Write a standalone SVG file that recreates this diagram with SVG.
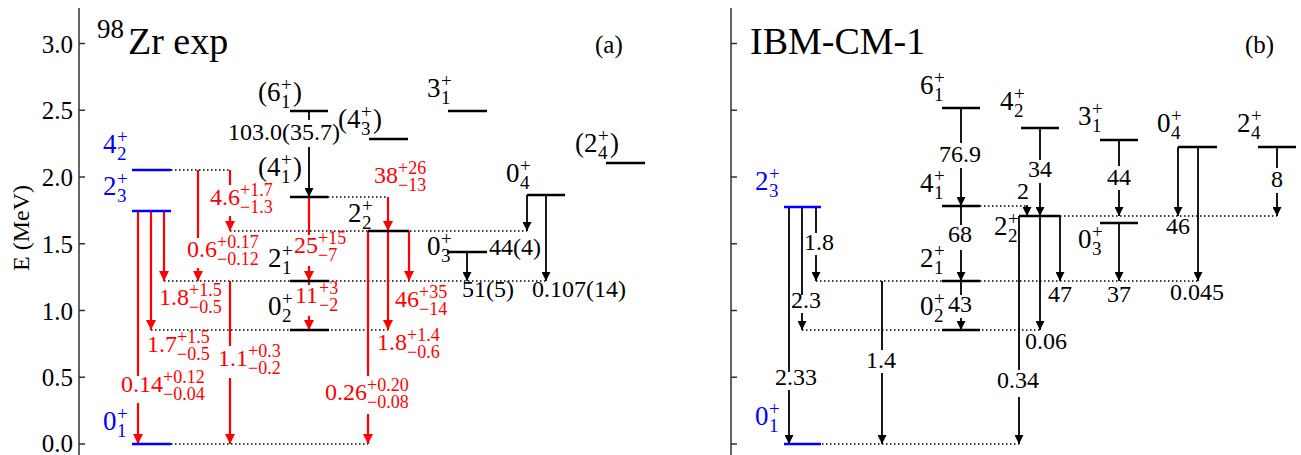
<svg xmlns="http://www.w3.org/2000/svg" width="1301" height="455" viewBox="0 0 1301 455" font-family="'Liberation Serif', 'Times New Roman', serif">
<style>
text{font-family:"Liberation Serif","Times New Roman",serif;}
.tk{font-size:25px;fill:#000;text-anchor:end}
.ax{stroke:#333;stroke-width:1.5;fill:none}
.lv{font-size:27px;fill:#000}
.lv .s{font-size:19px}
.val{font-size:24px;fill:#000}
.val .s{font-size:18px}
.vm{font-size:24px;fill:#000;text-anchor:middle}
.red{fill:#ff0000}
.blue{fill:#0000ff}
.lev{stroke:#000;stroke-width:2.5}
.levb{stroke:#0000ff;stroke-width:2.5}
.dot{stroke:#000;stroke-width:1.5;stroke-dasharray:1.5 2.5;fill:none}
.ar{stroke:#ff0000;stroke-width:2.2;fill:none;marker-end:url(#mr)}
.ab{stroke:#000;stroke-width:1.8;fill:none;marker-end:url(#mb)}
</style>
<defs>
<marker id="mr" markerUnits="userSpaceOnUse" viewBox="0 0 10 10" markerWidth="10" markerHeight="10" refX="10" refY="5" orient="auto"><path d="M0,0 L10,5 L0,10 Z" fill="#ff0000"/></marker>
<marker id="mb" markerUnits="userSpaceOnUse" viewBox="0 0 10 10" markerWidth="9" markerHeight="9" refX="10" refY="5" orient="auto"><path d="M0,0 L10,5 L0,10 Z" fill="#000"/></marker>
</defs>
<rect width="1301" height="455" fill="#fff"/>

<!-- Axes -->
<g id="axis-a">
<path class="ax" d="M79,8 V455 M79,43.5 H85 M79,110.25 H85 M79,177 H85 M79,243.75 H85 M79,310.5 H85 M79,377.25 H85 M79,444 H85"/>
<text class="tk" x="73" y="52.5">3.0</text>
<text class="tk" x="73" y="119">2.5</text>
<text class="tk" x="73" y="186">2.0</text>
<text class="tk" x="73" y="252.5">1.5</text>
<text class="tk" x="73" y="319.5">1.0</text>
<text class="tk" x="73" y="386">0.5</text>
<text class="tk" x="73" y="452">0.0</text>
<text transform="translate(29,228) rotate(-90)" style="font-size:24px;text-anchor:middle">E (MeV)</text>
<text x="97" y="38" style="font-size:27px">98</text>
<text x="128" y="54" style="font-size:38px">Zr exp</text>
<text x="595" y="53" style="font-size:25px">(a)</text>
</g>
<g id="axis-b">
<path class="ax" d="M731,8 V455 M731,43.5 H737 M731,110.25 H737 M731,177 H737 M731,243.75 H737 M731,310.5 H737 M731,377.25 H737 M731,444 H737"/>
<text x="750" y="54" style="font-size:38px">IBM-CM-1</text>
<text x="1245" y="53" style="font-size:25px">(b)</text>
</g>

<!-- Connectors -->
<g id="connectors">
<path class="dot" d="M171,444 H368 M151,330 H388 M164,281 H546 M230,231 H527 M328,197 H388 M171,170 H230"/>
<path class="dot" d="M822,444 H1019 M802,330 H1040 M816,281 H1198 M1060,216 H1277 M980,206 H1027"/>
<path class="ar" d="M138,211 V376 M138,403 V444"/>
<path class="ar" d="M151,211 V330"/>
<path class="ar" d="M164,211 V281"/>
<path class="ar" d="M198,170 V238 M198,268 V281"/>
<path class="ar" d="M230,170 V185 M230,216 V231"/>
<path class="ar" d="M230,281 V346 M230,378 V444"/>
<path class="ar" d="M309,197 V235 M309,266 V281"/>
<path class="ar" d="M309,281 V285 M309,316 V330"/>
<path class="ar" d="M388,197 V231"/>
<path class="ar" d="M368,231 V376 M368,414 V444"/>
<path class="ar" d="M388,231 V330"/>
<path class="ar" d="M409,231 V281"/>
<path class="ab" d="M309,111 V120 M309,147 V197"/>
<path class="ab" d="M467,252 V281"/>
<path class="ab" d="M527,195 V231"/>
<path class="ab" d="M546,195 V281"/>
<path class="ab" d="M789,207 V372 M789,390 V444"/>
<path class="ab" d="M802,207 V295 M802,313 V330"/>
<path class="ab" d="M816,207 V233 M816,255 V281"/>
<path class="ab" d="M882,281 V350 M882,373 V444"/>
<path class="ab" d="M961,108 V143 M961,168 V206"/>
<path class="ab" d="M961,206 V225 M961,250 V281"/>
<path class="ab" d="M961,281 V295 M961,318 V330"/>
<path class="ab" d="M1040,128 V160 M1040,183 V216"/>
<path class="ab" d="M1027,205 V216"/>
<path class="ab" d="M1119,140 V166 M1119,190 V216"/>
<path class="ab" d="M1277,147 V168 M1277,193 V216"/>
<path class="ab" d="M1178,147 V216"/>
<path class="ab" d="M1198,147 V281"/>
<path class="ab" d="M1060,216 V281"/>
<path class="ab" d="M1119,223 V281"/>
<path class="ab" d="M1040,216 V330"/>
<path class="ab" d="M1019,216 V370 M1019,397 V444"/>
<!-- red labels -->
<text class="val red"><tspan x="121" y="392">0.14</tspan><tspan class="s" x="163" y="383">+0.12</tspan><tspan class="s" x="163" y="400">−0.04</tspan></text>
<text class="val red"><tspan x="147" y="352">1.7</tspan><tspan class="s" x="177" y="343">+1.5</tspan><tspan class="s" x="177" y="360">−0.5</tspan></text>
<text class="val red"><tspan x="159" y="305">1.8</tspan><tspan class="s" x="189" y="296">+1.5</tspan><tspan class="s" x="189" y="313">−0.5</tspan></text>
<text class="val red"><tspan x="187" y="257">0.6</tspan><tspan class="s" x="217" y="248">+0.17</tspan><tspan class="s" x="217" y="265">−0.12</tspan></text>
<text class="val red"><tspan x="210" y="205">4.6</tspan><tspan class="s" x="240" y="196">+1.7</tspan><tspan class="s" x="240" y="213">−1.3</tspan></text>
<text class="val red"><tspan x="218" y="366">1.1</tspan><tspan class="s" x="248" y="357">+0.3</tspan><tspan class="s" x="248" y="374">−0.2</tspan></text>
<text class="val red"><tspan x="294" y="253">25</tspan><tspan class="s" x="318" y="244">+15</tspan><tspan class="s" x="318" y="261">−7</tspan></text>
<text class="val red"><tspan x="295" y="303">11</tspan><tspan class="s" x="319" y="294">+3</tspan><tspan class="s" x="319" y="311">−2</tspan></text>
<text class="val red"><tspan x="374" y="183">38</tspan><tspan class="s" x="398" y="174">+26</tspan><tspan class="s" x="398" y="191">−13</tspan></text>
<text class="val red"><tspan x="395" y="307">46</tspan><tspan class="s" x="419" y="298">+35</tspan><tspan class="s" x="419" y="315">−14</tspan></text>
<text class="val red"><tspan x="377" y="350">1.8</tspan><tspan class="s" x="407" y="341">+1.4</tspan><tspan class="s" x="407" y="358">−0.6</tspan></text>
<text class="val red"><tspan x="325" y="400">0.26</tspan><tspan class="s" x="367" y="391">+0.20</tspan><tspan class="s" x="367" y="408">−0.08</tspan></text>
<!-- black labels (a) -->
<text class="val" x="228" y="140">103.0(35.7)</text>
<text class="val" x="489" y="255">44(4)</text>
<text class="val" x="462" y="297">51(5)</text>
<text class="val" x="532" y="297">0.107(14)</text>
<!-- labels (b) -->
<text class="vm" x="960" y="162">76.9</text>
<text class="vm" x="960" y="242">68</text>
<text class="vm" x="960" y="312">43</text>
<text class="vm" x="1040" y="177">34</text>
<text class="vm" x="1023" y="199">2</text>
<text class="vm" x="1119" y="185">44</text>
<text class="vm" x="1277" y="187">8</text>
<text class="vm" x="1178" y="234">46</text>
<text class="vm" x="1197" y="300">0.045</text>
<text class="vm" x="1060" y="302">47</text>
<text class="vm" x="1119" y="302">37</text>
<text class="vm" x="1046" y="349">0.06</text>
<text class="vm" x="1018" y="388">0.34</text>
<text class="vm" x="796" y="385">2.33</text>
<text class="vm" x="806" y="308">2.3</text>
<text class="vm" x="819" y="250">1.8</text>
<text class="vm" x="881" y="368">1.4</text>
</g>

<!-- Levels panel (a) -->
<g id="a-0_1"><line class="levb" x1="132" y1="444" x2="171" y2="444"/><text class="lv blue"><tspan x="103" y="430">0</tspan><tspan class="s" x="117" y="420">+</tspan><tspan class="s" x="117" y="437">1</tspan></text></g>
<g id="a-2_3"><line class="levb" x1="132" y1="211" x2="171" y2="211"/><text class="lv blue"><tspan x="103" y="195">2</tspan><tspan class="s" x="117" y="185">+</tspan><tspan class="s" x="117" y="202">3</tspan></text></g>
<g id="a-4_2"><line class="levb" x1="132" y1="170" x2="171" y2="170"/><text class="lv blue"><tspan x="103" y="153">4</tspan><tspan class="s" x="117" y="143">+</tspan><tspan class="s" x="117" y="160">2</tspan></text></g>
<g id="a-6_1"><line class="lev" x1="290" y1="111" x2="328" y2="111"/><text class="lv"><tspan x="258" y="101">(6</tspan><tspan class="s" x="281" y="91">+</tspan><tspan class="s" x="281" y="108">1</tspan><tspan x="293" y="101">)</tspan></text></g>
<g id="a-4_3"><line class="lev" x1="369" y1="139" x2="408" y2="139"/><text class="lv"><tspan x="338" y="128">(4</tspan><tspan class="s" x="361" y="118">+</tspan><tspan class="s" x="361" y="135">3</tspan><tspan x="373" y="128">)</tspan></text></g>
<g id="a-4_1"><line class="lev" x1="290" y1="197" x2="328" y2="197"/><text class="lv"><tspan x="258" y="176">(4</tspan><tspan class="s" x="281" y="166">+</tspan><tspan class="s" x="281" y="183">1</tspan><tspan x="293" y="176">)</tspan></text></g>
<g id="a-3_1"><line class="lev" x1="448" y1="111" x2="487" y2="111"/><text class="lv"><tspan x="427" y="97">3</tspan><tspan class="s" x="441" y="87">+</tspan><tspan class="s" x="441" y="104">1</tspan></text></g>
<g id="a-2_4"><line class="lev" x1="606" y1="163" x2="645" y2="163"/><text class="lv"><tspan x="575" y="152">(2</tspan><tspan class="s" x="598" y="142">+</tspan><tspan class="s" x="598" y="159">4</tspan><tspan x="610" y="152">)</tspan></text></g>
<g id="a-0_4"><line class="lev" x1="527" y1="195" x2="565" y2="195"/><text class="lv"><tspan x="506" y="182">0</tspan><tspan class="s" x="520" y="172">+</tspan><tspan class="s" x="520" y="189">4</tspan></text></g>
<g id="a-2_2"><line class="lev" x1="368" y1="231" x2="409" y2="231"/><text class="lv"><tspan x="348" y="222">2</tspan><tspan class="s" x="362" y="212">+</tspan><tspan class="s" x="362" y="229">2</tspan></text></g>
<g id="a-0_3"><line class="lev" x1="447" y1="252" x2="487" y2="252"/><text class="lv"><tspan x="427" y="255">0</tspan><tspan class="s" x="441" y="245">+</tspan><tspan class="s" x="441" y="262">3</tspan></text></g>
<g id="a-2_1"><line class="lev" x1="290" y1="281" x2="329" y2="281"/><text class="lv"><tspan x="268" y="267">2</tspan><tspan class="s" x="282" y="257">+</tspan><tspan class="s" x="282" y="274">1</tspan></text></g>
<g id="a-0_2"><line class="lev" x1="290" y1="330" x2="329" y2="330"/><text class="lv"><tspan x="268" y="315">0</tspan><tspan class="s" x="282" y="305">+</tspan><tspan class="s" x="282" y="322">2</tspan></text></g>

<!-- Levels panel (b) -->
<g id="b-0_1"><line class="levb" x1="784" y1="444" x2="821" y2="444"/><text class="lv blue"><tspan x="755" y="425">0</tspan><tspan class="s" x="769" y="415">+</tspan><tspan class="s" x="769" y="432">1</tspan></text></g>
<g id="b-2_3"><line class="levb" x1="784" y1="207" x2="821" y2="207"/><text class="lv blue"><tspan x="755" y="190">2</tspan><tspan class="s" x="769" y="180">+</tspan><tspan class="s" x="769" y="197">3</tspan></text></g>
<g id="b-6_1"><line class="lev" x1="942" y1="108" x2="980" y2="108"/><text class="lv"><tspan x="920" y="94">6</tspan><tspan class="s" x="934" y="84">+</tspan><tspan class="s" x="934" y="101">1</tspan></text></g>
<g id="b-4_1"><line class="lev" x1="942" y1="206" x2="980" y2="206"/><text class="lv"><tspan x="920" y="192">4</tspan><tspan class="s" x="934" y="182">+</tspan><tspan class="s" x="934" y="199">1</tspan></text></g>
<g id="b-2_1"><line class="lev" x1="942" y1="281" x2="980" y2="281"/><text class="lv"><tspan x="920" y="267">2</tspan><tspan class="s" x="934" y="257">+</tspan><tspan class="s" x="934" y="274">1</tspan></text></g>
<g id="b-0_2"><line class="lev" x1="942" y1="330" x2="980" y2="330"/><text class="lv"><tspan x="920" y="315">0</tspan><tspan class="s" x="934" y="305">+</tspan><tspan class="s" x="934" y="322">2</tspan></text></g>
<g id="b-4_2"><line class="lev" x1="1021" y1="128" x2="1059" y2="128"/><text class="lv"><tspan x="1000" y="110">4</tspan><tspan class="s" x="1014" y="100">+</tspan><tspan class="s" x="1014" y="117">2</tspan></text></g>
<g id="b-2_2"><line class="lev" x1="1019" y1="216" x2="1060" y2="216"/><text class="lv"><tspan x="994" y="235">2</tspan><tspan class="s" x="1008" y="225">+</tspan><tspan class="s" x="1008" y="242">2</tspan></text></g>
<g id="b-3_1"><line class="lev" x1="1100" y1="140" x2="1138" y2="140"/><text class="lv"><tspan x="1078" y="125">3</tspan><tspan class="s" x="1092" y="115">+</tspan><tspan class="s" x="1092" y="132">1</tspan></text></g>
<g id="b-0_3"><line class="lev" x1="1100" y1="223" x2="1138" y2="223"/><text class="lv"><tspan x="1078" y="248">0</tspan><tspan class="s" x="1092" y="238">+</tspan><tspan class="s" x="1092" y="255">3</tspan></text></g>
<g id="b-0_4"><line class="lev" x1="1178" y1="147" x2="1217" y2="147"/><text class="lv"><tspan x="1157" y="132">0</tspan><tspan class="s" x="1171" y="122">+</tspan><tspan class="s" x="1171" y="139">4</tspan></text></g>
<g id="b-2_4"><line class="lev" x1="1258" y1="147" x2="1296" y2="147"/><text class="lv"><tspan x="1237" y="132">2</tspan><tspan class="s" x="1251" y="122">+</tspan><tspan class="s" x="1251" y="139">4</tspan></text></g>
</svg>
